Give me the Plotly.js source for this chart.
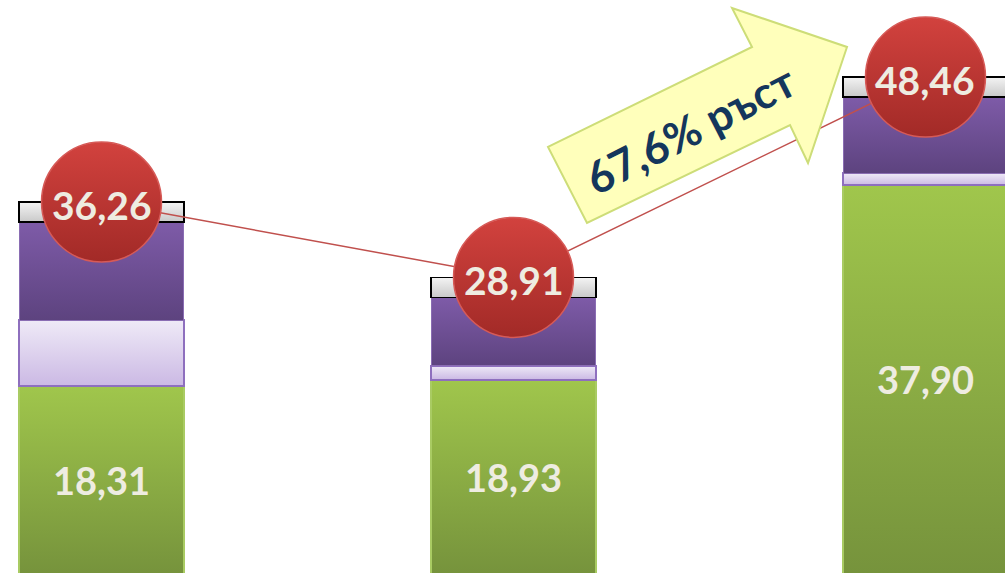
<!DOCTYPE html>
<html><head><meta charset="utf-8">
<script src="https://cdn.plot.ly/plotly-3.0.1.min.js"></script>
<style>html,body{margin:0;padding:0;background:#fff;overflow:hidden;} #chart{width:1005px;height:573px;}</style>
</head><body><div id="chart"></div>
<script>
// ---- data ----
const categories = ['Период 1', 'Период 2', 'Период 3'];
const greenValues = [18.31, 18.93, 37.90];
const lavenderValues = [6.43, 1.36, 1.17];
const purpleValues = [9.57, 6.67, 7.44];
const greyValues = [1.95, 1.95, 1.95];
const totalValues = [36.26, 28.91, 48.46];
const growthLabel = '67,6% ръст';

const fmt = v => v.toFixed(2).replace('.', ',');
const cream = '#EEECE1';
const fontFam = 'Lato, "Open Sans", sans-serif';

const data = [
  {type:'bar', x:categories, y:greenValues, text:greenValues.map(fmt),
   textposition:'inside', insidetextanchor:'middle', textangle:0,
   textfont:{family:fontFam, size:38, color:cream, weight:'bold'},
   marker:{color:'#8CB043', line:{color:'#A9CB63', width:1.5}}, hoverinfo:'skip'},
  {type:'bar', x:categories, y:lavenderValues,
   marker:{color:'#DDD3EE', line:{color:'#8E6FBE', width:2}}, hoverinfo:'skip'},
  {type:'bar', x:categories, y:purpleValues,
   marker:{color:'#6D4F95', line:{color:'#8A6DB3', width:1}}, hoverinfo:'skip'},
  {type:'bar', x:categories, y:greyValues,
   marker:{color:'#E0E0E0', line:{color:'#000000', width:1.5}}, hoverinfo:'skip'},
  {type:'scatter', mode:'lines+markers', x:categories, y:totalValues,
   line:{color:'#C0504D', width:1.5},
   marker:{size:120, color:'#D2423E', gradient:{type:'vertical', color:'#A22A27'},
           line:{color:'#D65A57', width:1.5}}, hoverinfo:'skip'}
];

const P = (px, py) => (px/1005).toFixed(4) + ',' + (1 - py/573).toFixed(4);
const arrowPath = 'M' + P(548,147) + ' L' + P(752,47) + ' L' + P(732,8) + ' L' + P(847,47) +
  ' L' + P(808,163) + ' L' + P(790,125) + ' L' + P(587,223) + ' Z';

const totalLabels = categories.map((c, i) => ({
  x:c, y:totalValues[i], xref:'x', yref:'y', text:fmt(totalValues[i]), showarrow:false,
  xanchor:'center', yanchor:'middle', yshift:-3,
  font:{family:fontFam, size:39, color:cream, weight:'bold'}
}));

const layout = {
  width:1005, height:573,
  margin:{l:0, r:0, t:0, b:0, pad:0},
  paper_bgcolor:'#ffffff', plot_bgcolor:'#ffffff',
  showlegend:false, barmode:'stack', bargap:0.6,
  xaxis:{type:'category', range:[-0.2464, 2.193], visible:false, fixedrange:true},
  yaxis:{range:[0.07, 55.97], visible:false, fixedrange:true},
  shapes:[{type:'path', xref:'paper', yref:'paper', path:arrowPath, layer:'above',
           fillcolor:'#FFFFBB', line:{color:'#CDDD78', width:2}}],
  annotations:totalLabels.concat([{xref:'paper', yref:'paper', x:690/1005, y:1-129/573, text:growthLabel,
    showarrow:false, textangle:-27, xanchor:'center', yanchor:'middle',
    font:{family:fontFam, size:44, color:'#14365C', weight:'bold'}}])
};

const grads = [
  ['#A0C64C', '#76933C'],
  ['#EFEAF7', '#CBB9E4'],
  ['#7E5BA8', '#5D437F'],
  ['#F4F4F4', '#C9C9C9']
];

Plotly.newPlot('chart', data, layout, {staticPlot:true, displayModeBar:false}).then(gd => {
  const ns = 'http://www.w3.org/2000/svg';
  const svg = gd.querySelector('.main-svg');
  let defs = svg.querySelector('defs');
  if (!defs) { defs = document.createElementNS(ns, 'defs'); svg.insertBefore(defs, svg.firstChild); }
  const traces = gd.querySelectorAll('.barlayer .trace');
  grads.forEach((g, i) => {
    const lg = document.createElementNS(ns, 'linearGradient');
    lg.setAttribute('id', 'bargrad' + i);
    lg.setAttribute('x1', '0'); lg.setAttribute('y1', '0');
    lg.setAttribute('x2', '0'); lg.setAttribute('y2', '1');
    g.forEach((c, k) => {
      const s = document.createElementNS(ns, 'stop');
      s.setAttribute('offset', k === 0 ? '0' : '1');
      s.setAttribute('stop-color', c);
      lg.appendChild(s);
    });
    defs.appendChild(lg);
    if (traces[i]) traces[i].querySelectorAll('.point path').forEach(p => { p.style.fill = 'url(#bargrad' + i + ')'; });
  });
});
</script>
</body></html>
